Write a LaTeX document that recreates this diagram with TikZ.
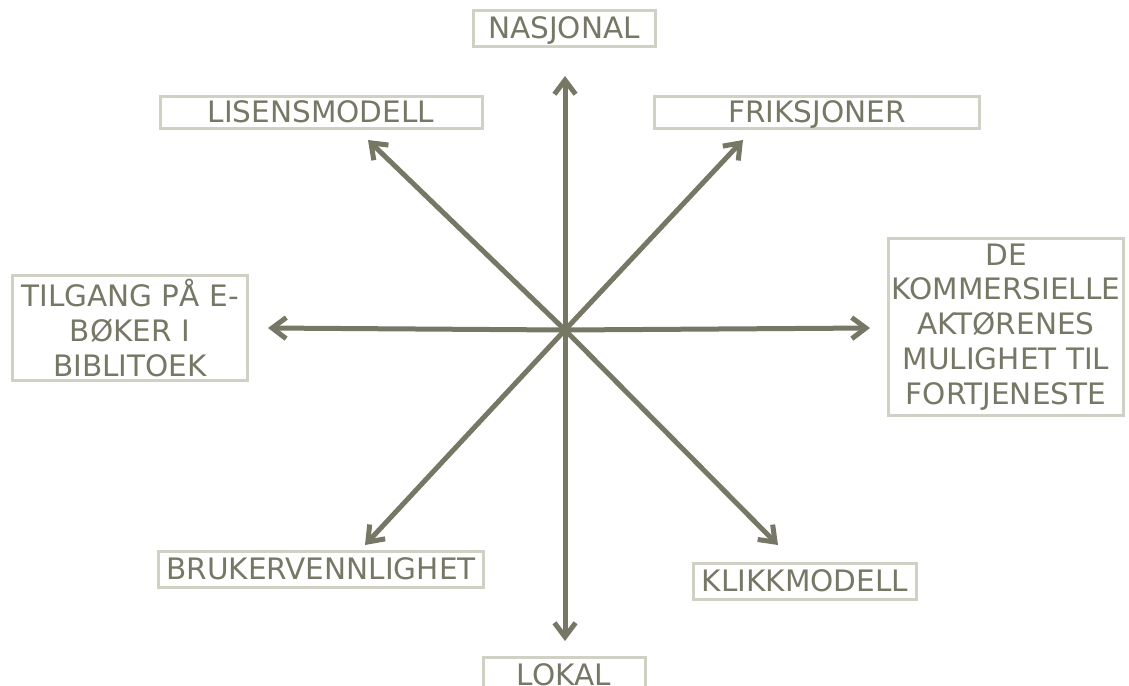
\documentclass[tikz,border=0pt]{standalone}
\usepackage{fontspec}
\setmainfont{DejaVu Sans}
\usetikzlibrary{arrows.meta}
\newlength{\du}
\setlength{\du}{0.025cm}

\begin{document}
\begin{tikzpicture}
\pgftransformxscale{1.000000}
\pgftransformyscale{-1.000000}
\definecolor{dialinecolor}{rgb}{0.466000, 0.466000, 0.400000}
\definecolor{diaboxcolor}{rgb}{0.816000, 0.816000, 0.773000}
\tikzset{
  dialabel/.style={draw=diaboxcolor, line width=3\du, text=dialinecolor, inner sep=0pt,
    align=center, font=\fontsize{21}{24.8}\selectfont},
  dialine/.style={dialabel, text height=15.3pt, text depth=0pt},
  diaarrow/.style={draw=dialinecolor, line width=5\du,
    -{Straight Barb[length=10pt, width=15pt]}}
}
\useasboundingbox (0\du,0\du) rectangle (1129\du,685\du);
% labels
\node[dialine, minimum width=182\du, minimum height=36\du] (nasjonal) at (564\du,28\du){NASJONAL};
\node[dialine, minimum width=322\du, minimum height=32\du] (lisens) at (321\du,112\du){LISENSMODELL};
\node[dialine, minimum width=325\du, minimum height=32\du] (friksjoner) at (817\du,112\du){FRIKSJONER};
\node[dialabel, minimum width=235\du, minimum height=105\du] (tilgang) at (130\du,328\du){TILGANG PÅ E-\\BØKER I\\BIBLITOEK};
\node[dialabel, minimum width=235\du, minimum height=177\du] (kommersielle) at (1006\du,327\du){DE\\KOMMERSIELLE\\AKTØRENES\\MULIGHET TIL\\FORTJENESTE};
\node[dialine, minimum width=325\du, minimum height=36\du] (bruker) at (321\du,569\du){BRUKERVENNLIGHET};
\node[dialine, minimum width=223\du, minimum height=36\du] (klikk) at (805\du,581\du){KLIKKMODELL};
\node[dialine, minimum width=162\du, minimum height=36\du] (lokal) at (564\du,675\du){LOKAL};
% arrows
\coordinate (hub) at (565\du,330\du);
\coordinate (tipN) at (565\du,76\du);
\coordinate (tipS) at (565\du,641\du);
\coordinate (tipW) at (268\du,328\du);
\coordinate (tipE) at (870\du,328\du);
\coordinate (tipNW) at (368\du,140\du);
\coordinate (tipNE) at (743\du,140\du);
\coordinate (tipSW) at (365\du,545\du);
\coordinate (tipSE) at (778\du,545\du);
\draw[diaarrow] (hub)--(tipN);
\draw[diaarrow] (hub)--(tipS);
\draw[diaarrow] (hub)--(tipW);
\draw[diaarrow] (hub)--(tipE);
\draw[diaarrow] (hub)--(tipNW);
\draw[diaarrow] (hub)--(tipNE);
\draw[diaarrow] (hub)--(tipSW);
\draw[diaarrow] (hub)--(tipSE);
\end{tikzpicture}
\end{document}
